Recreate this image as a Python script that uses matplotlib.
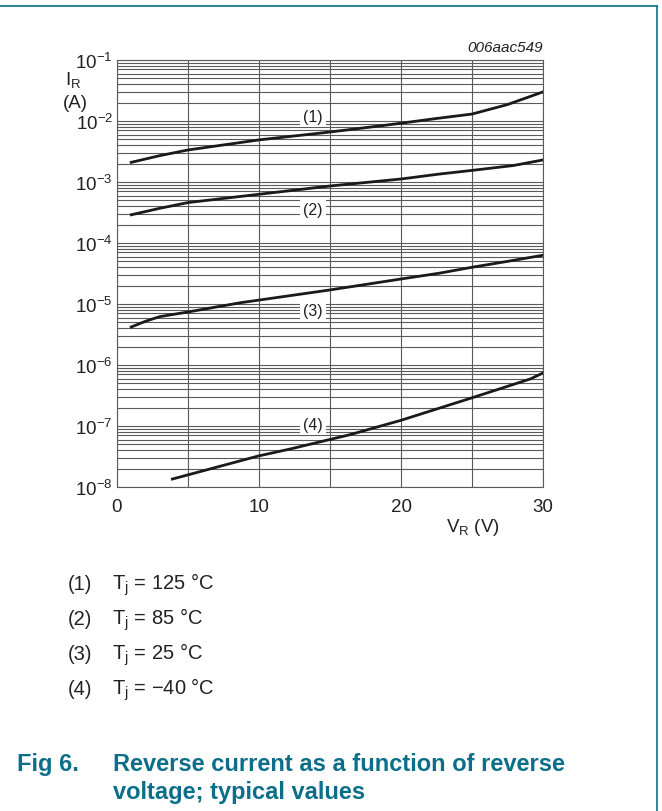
import numpy as np
import matplotlib.pyplot as plt
from matplotlib.lines import Line2D

plt.rcParams['font.family'] = ['Liberation Sans', 'DejaVu Sans']
plt.rcParams['mathtext.fontset'] = 'custom'
plt.rcParams['mathtext.rm'] = 'Liberation Sans'
plt.rcParams['mathtext.it'] = 'Liberation Sans:italic'

# curves: V_R (V) -> I_R (A)
v1 = [1, 3, 5, 10, 15, 18.5, 20, 22.5, 25, 27.5, 30]
i1 = [2.1e-3, 2.7e-3, 3.35e-3, 4.9e-3, 6.6e-3, 8.3e-3, 9.2e-3, 1.1e-2, 1.3e-2, 1.86e-2, 3.0e-2]
v2 = [1, 3, 5, 8.7, 15, 20, 22.7, 25, 27.9, 30]
i2 = [2.9e-4, 3.7e-4, 4.6e-4, 5.8e-4, 8.6e-4, 1.12e-3, 1.35e-3, 1.55e-3, 1.86e-3, 2.3e-3]
v3 = [1, 2, 3, 5, 8.7, 15, 20, 22.7, 25, 27.5, 30]
i3 = [4.2e-6, 5.2e-6, 6.2e-6, 7.4e-6, 1.05e-5, 1.7e-5, 2.57e-5, 3.2e-5, 4.0e-5, 5.0e-5, 6.3e-5]
v4 = [3.9, 9.9, 12.2, 16.4, 20, 25, 29.1, 30]
i4 = [1.35e-8, 3.2e-8, 4.2e-8, 7.2e-8, 1.24e-7, 2.9e-7, 5.9e-7, 7.4e-7]

curves = [(v1, i1), (v2, i2), (v3, i3), (v4, i4)]
labels = ['(1)', '(2)', '(3)', '(4)']
label_pos = [(13.8, 1.2e-2), (13.8, 3.6e-4), (13.8, 7.9e-6), (13.8, 1.07e-7)]
temps = ['125', '85', '25', '\u221240']

teal = '#0b6f8a'
grid_c = '#5a5a5a'

fig = plt.figure(figsize=(6.62, 8.12), dpi=100)
ax = fig.add_axes([117 / 662, 1 - 488 / 812, 426 / 662, 427 / 812])
ax.set_yscale('log')
ax.set_xlim(0, 30)
ax.set_ylim(1e-8, 1e-1)

ax.set_xticks([0, 10, 20, 30])
ax.set_xticks([5, 15, 25], minor=True)
ax.set_yticks([10.0 ** k for k in range(-8, 0)])
ax.set_yticks([m * 10.0 ** k for k in range(-8, -1) for m in range(2, 10)], minor=True)
ax.yaxis.set_minor_formatter(plt.NullFormatter())
ax.grid(True, which='both', color=grid_c, lw=0.8)
ax.tick_params(which='both', length=0, labelsize=13.5, colors='#222222')
ax.tick_params(axis='y', pad=3)
ax.tick_params(axis='x', pad=8)
for s in ax.spines.values():
    s.set_color(grid_c)
    s.set_linewidth(0.8)

for (v, i) in curves:
    ax.plot(v, i, color='#1a1a1a', lw=2.0, solid_joinstyle='round')

for lab, (x, y) in zip(labels, label_pos):
    ax.text(x, y, lab, fontsize=11.5, ha='center', va='center', color='#222222',
            bbox=dict(facecolor='white', edgecolor='none', pad=2.5))

fig.text(65 / 662, 1 - 80 / 812, r'I$_\mathrm{R}$', fontsize=13.5, ha='left', va='center', color='#222222')
fig.text(63 / 662, 1 - 103 / 812, '(A)', fontsize=13.5, ha='left', va='center', color='#222222')
fig.text(446 / 662, 1 - 528 / 812, r'V$_\mathrm{R}$ (V)', fontsize=13.5, ha='left', va='center', color='#222222')
fig.text(543 / 662, 1 - 48 / 812, '006aac549', fontsize=11, style='italic', ha='right', va='center', color='#222222')

for k, (lab, t) in enumerate(zip(labels, temps)):
    y = 1 - (585 + 35 * k) / 812
    fig.text(68 / 662, y, lab, fontsize=14.5, ha='left', va='center', color='#222222')
    fig.text(112 / 662, y, r'T$_\mathrm{j}$ = ' + t + ' \u00b0C', fontsize=14.5, ha='left', va='center', color='#222222')

fig.text(17 / 662, 1 - 765 / 812, 'Fig 6.', fontsize=17, fontweight='bold', ha='left', va='center', color=teal)
fig.text(113 / 662, 1 - 765 / 812, 'Reverse current as a function of reverse', fontsize=17,
         fontweight='bold', ha='left', va='center', color=teal)
fig.text(113 / 662, 1 - 793 / 812, 'voltage; typical values', fontsize=17,
         fontweight='bold', ha='left', va='center', color=teal)

# frame lines
fig.add_artist(Line2D([0, 657 / 662], [1 - 7 / 812, 1 - 7 / 812], transform=fig.transFigure, color=teal, lw=1.2))
fig.add_artist(Line2D([657 / 662, 657 / 662], [1 - 7 / 812, 0], transform=fig.transFigure, color=teal, lw=1.2))

fig.savefig('out.png', dpi=100)
